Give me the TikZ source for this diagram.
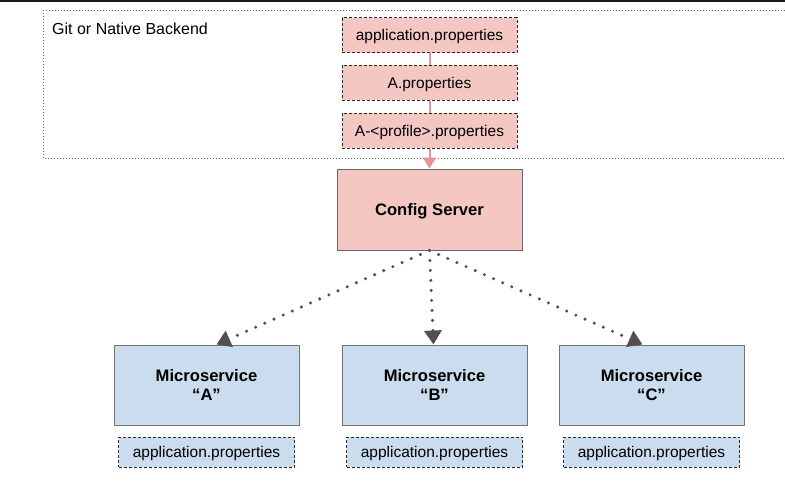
\documentclass[tikz,border=0pt]{standalone}
\usepackage{fontspec}
\setmainfont{Liberation Sans}
\usetikzlibrary{arrows.meta,positioning}

\definecolor{propred}{HTML}{F4C7C3}
\definecolor{msblue}{HTML}{CADCEE}
\definecolor{linkred}{HTML}{E69597}
\definecolor{fetchgray}{HTML}{505050}

\begin{document}
\begin{tikzpicture}[x=1pt,y=-1pt,
  propbox/.style={draw=black!85,dash pattern=on 3pt off 2pt,line width=0.8pt,
    minimum width=175pt,minimum height=35pt,inner sep=0pt,text depth=0pt,
    font=\fontsize{15.5}{18}\selectfont},
  serverbox/.style={draw=black!60,line width=0.9pt,fill=propred,
    minimum width=185pt,minimum height=81pt,inner sep=0pt,text depth=0pt,
    font=\fontsize{16.6}{19}\selectfont\bfseries},
  msbox/.style={draw=black!55,line width=1pt,fill=msblue,align=center,
    minimum width=185pt,minimum height=80pt,inner sep=0pt,
    font=\fontsize{16.6}{19}\selectfont\bfseries},
  link/.style={draw=linkred,line width=2pt},
  fetch/.style={draw=fetchgray,line width=3.4pt,line cap=round,
    dash pattern=on 0pt off 10pt,
    -{Triangle[length=14pt,width=17pt]}}]

\useasboundingbox (0,0) rectangle (785,480);

\fill[black!90] (0,0) rectangle (785,2);

% backend
\draw[black!60,line width=1pt,dash pattern=on 1pt off 2pt] (43,10) rectangle (800,158);

\node(backendlabel)[anchor=west,inner sep=0pt,font=\fontsize{16}{19}\selectfont] at (52,29){Git or Native Backend};

\node(appprops)[propbox,fill=propred] at (429.5,35){application.properties};

\node(aprops)[propbox,fill=propred,below=12pt of appprops]{A.properties};

\node(profprops)[propbox,fill=propred,below=12pt of aprops]{A-<profile>.properties};

\node(server)[serverbox] at (429.5,209.5){Config Server};

\draw [link] (appprops) -- (aprops);

\draw [link] (aprops) -- (profprops);

\draw [link,-{Triangle[length=11pt,width=13pt]}] (profprops) -- (server);

% microservices
\node(msa)[msbox] at (206.5,385){Microservice\\“A”};

\node(msb)[msbox] at (434.5,385){Microservice\\“B”};

\node(msc)[msbox] at (651.5,385){Microservice\\“C”};

\node(propsa)[propbox,fill=msblue,minimum width=176pt,minimum height=30pt,below=11pt of msa]{application.properties};

\node(propsb)[propbox,fill=msblue,minimum width=176pt,minimum height=30pt,below=11pt of msb]{application.properties};

\node(propsc)[propbox,fill=msblue,minimum width=176pt,minimum height=30pt,below=11pt of msc]{application.properties};

\draw [fetch] (server.south) -- ([xshift=10pt]msa.north);

\draw [fetch] (server.south) -- ([xshift=-1pt]msb.north);

\draw [fetch] (server.south) -- ([xshift=-9pt]msc.north);

\end{tikzpicture}
\end{document}
